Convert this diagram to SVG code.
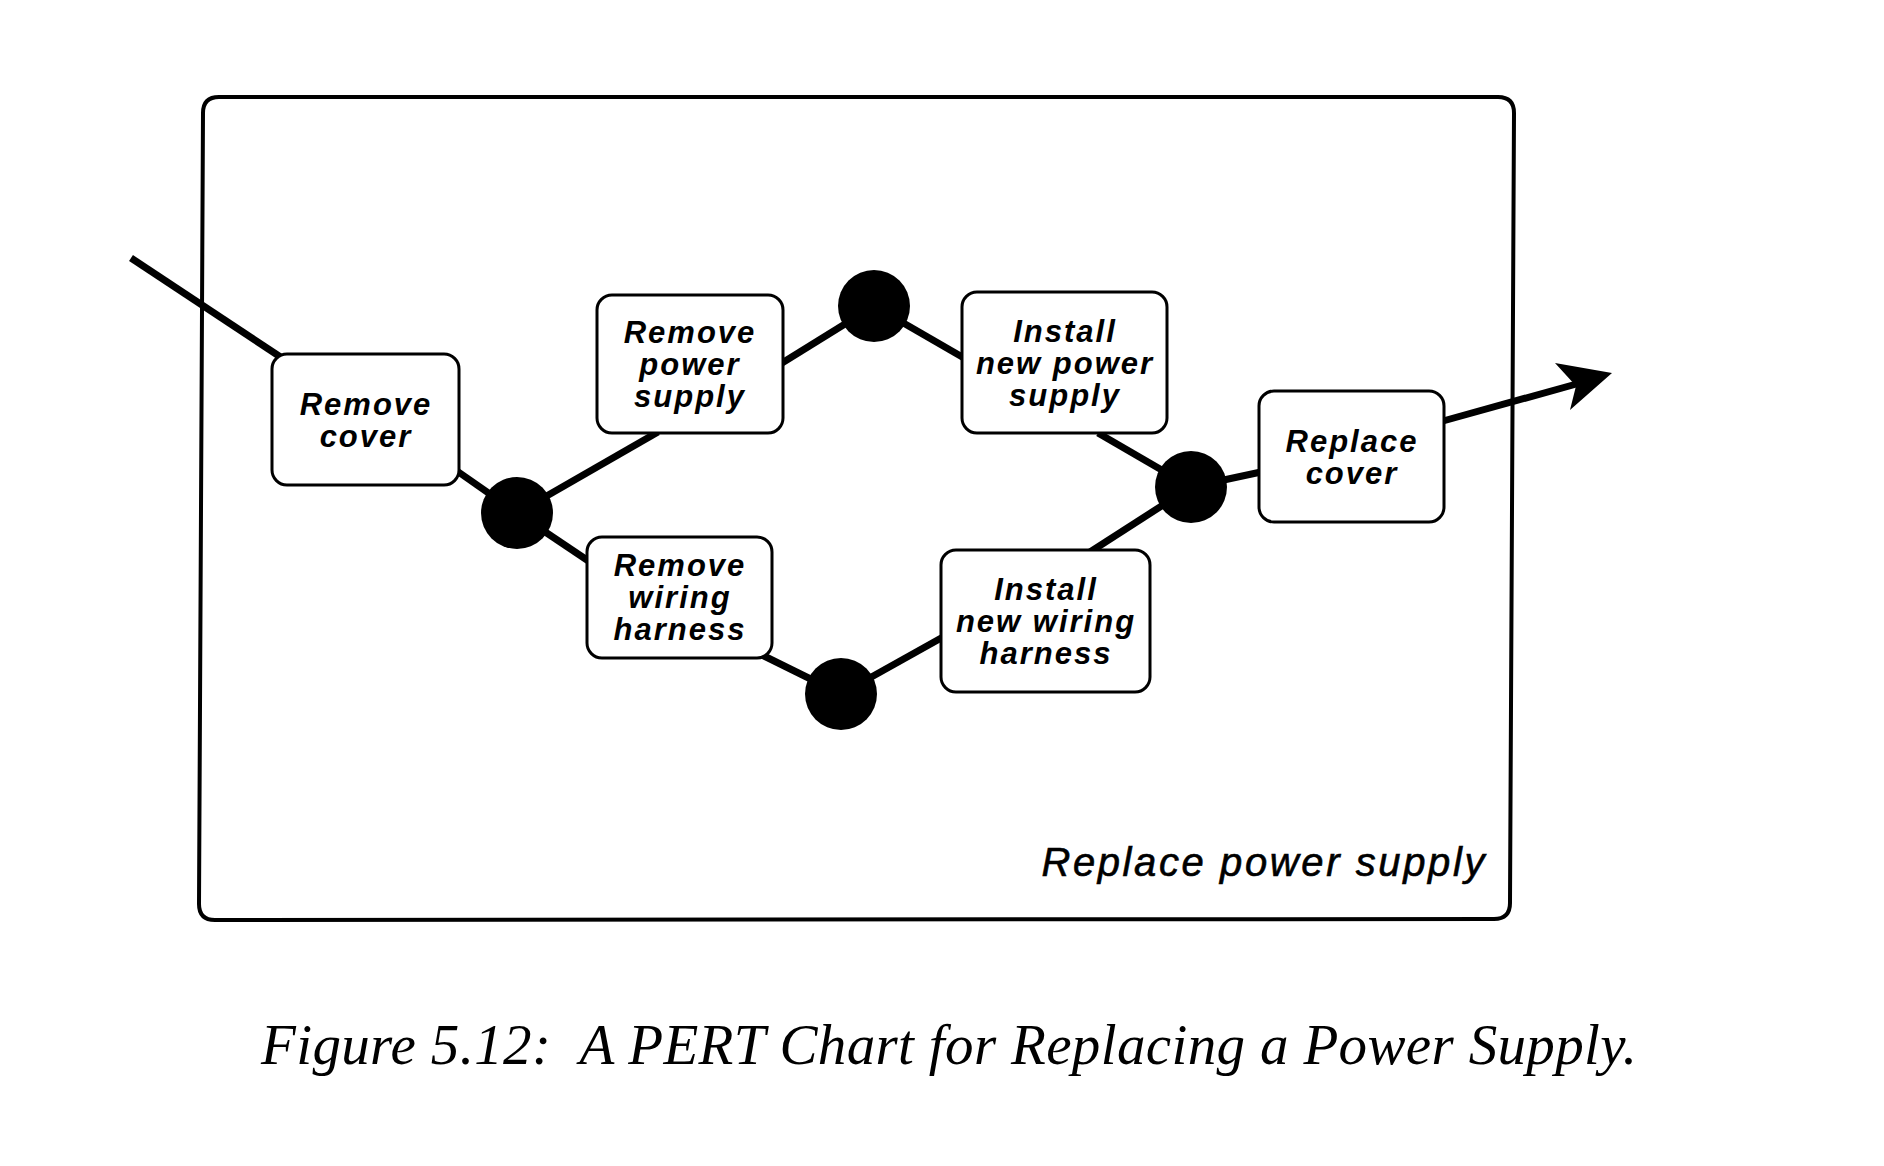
<svg xmlns="http://www.w3.org/2000/svg" width="1884" height="1166" viewBox="0 0 1884 1166">
  <style>
    .frame { fill: none; stroke: #000; stroke-width: 4; }
    .box { fill: #fff; stroke: #000; stroke-width: 3; }
    .evt { fill: #000; }
    .wire { stroke: #000; stroke-width: 7; fill: none; }
    .lbl { font-family: "Liberation Sans", Arial, sans-serif; font-style: italic; font-weight: bold; font-size: 31px; letter-spacing: 2px; text-anchor: middle; fill: #000; }
    .title { font-family: "Liberation Sans", Arial, sans-serif; font-style: italic; font-size: 40px; letter-spacing: 2.6px; text-anchor: end; fill: #000; stroke: #000; stroke-width: 0.6px; }
    .caption { font-family: "Liberation Serif", "Times New Roman", serif; font-style: italic; font-size: 57px; fill: #000; }
  </style>
  <rect width="1884" height="1166" fill="#fff"/>

  <g id="frame">
    <path class="frame" d="M 219,97 L 1498,97 Q 1514,97 1514,113 L 1510,903 Q 1510,919 1494,919 L 215,920 Q 199,920 199,904 L 203,113 Q 203,97 219,97 Z"/>
    <text class="title" x="1487" y="876">Replace power supply</text>
  </g>

  <g id="connectors">
    <line class="wire" x1="131" y1="258" x2="282" y2="358"/>
    <line class="wire" x1="457" y1="471" x2="517" y2="513"/>
    <line class="wire" x1="517" y1="513" x2="658" y2="432"/>
    <line class="wire" x1="517" y1="513" x2="590" y2="562"/>
    <line class="wire" x1="782" y1="363" x2="874" y2="306"/>
    <line class="wire" x1="874" y1="306" x2="964" y2="358"/>
    <line class="wire" x1="1098" y1="433" x2="1191" y2="487"/>
    <line class="wire" x1="1191" y1="487" x2="1090" y2="552"/>
    <line class="wire" x1="1191" y1="487" x2="1261" y2="472"/>
    <line class="wire" x1="760" y1="654" x2="841" y2="694"/>
    <line class="wire" x1="841" y1="694" x2="943" y2="637"/>
    <line class="wire" stroke-width="8" x1="1443" y1="421" x2="1580" y2="383"/>
    <polygon fill="#000" points="1612,373 1555,363 1576,386 1570,410"/>
  </g>

  <g id="node-remove-cover">
    <rect class="box" x="272" y="354" width="187" height="131" rx="15"/>
    <text class="lbl" x="366" y="415">Remove</text>
    <text class="lbl" x="366" y="447">cover</text>
  </g>

  <g id="node-remove-power-supply">
    <rect class="box" x="597" y="295" width="186" height="138" rx="15"/>
    <text class="lbl" x="690" y="343">Remove</text>
    <text class="lbl" x="690" y="375">power</text>
    <text class="lbl" x="690" y="407">supply</text>
  </g>

  <g id="node-install-new-power-supply">
    <rect class="box" x="962" y="292" width="205" height="141" rx="15"/>
    <text class="lbl" x="1065" y="342">Install</text>
    <text class="lbl" x="1065" y="374">new power</text>
    <text class="lbl" x="1065" y="406">supply</text>
  </g>

  <g id="node-remove-wiring-harness">
    <rect class="box" x="587" y="537" width="185" height="121" rx="15"/>
    <text class="lbl" x="680" y="576">Remove</text>
    <text class="lbl" x="680" y="608">wiring</text>
    <text class="lbl" x="680" y="640">harness</text>
  </g>

  <g id="node-install-new-wiring-harness">
    <rect class="box" x="941" y="550" width="209" height="142" rx="15"/>
    <text class="lbl" x="1046" y="600">Install</text>
    <text class="lbl" x="1046" y="632">new wiring</text>
    <text class="lbl" x="1046" y="664">harness</text>
  </g>

  <g id="node-replace-cover">
    <rect class="box" x="1259" y="391" width="185" height="131" rx="15"/>
    <text class="lbl" x="1352" y="452">Replace</text>
    <text class="lbl" x="1352" y="484">cover</text>
  </g>

  <g id="event-1"><circle class="evt" cx="517" cy="513" r="36"/></g>
  <g id="event-2"><circle class="evt" cx="874" cy="306" r="36"/></g>
  <g id="event-3"><circle class="evt" cx="1191" cy="487" r="36"/></g>
  <g id="event-4"><circle class="evt" cx="841" cy="694" r="36"/></g>

  <g id="caption">
    <text class="caption" x="261" y="1064" xml:space="preserve" textLength="1376" lengthAdjust="spacing">Figure 5.12:  A PERT Chart for Replacing a Power Supply.</text>
  </g>
</svg>
